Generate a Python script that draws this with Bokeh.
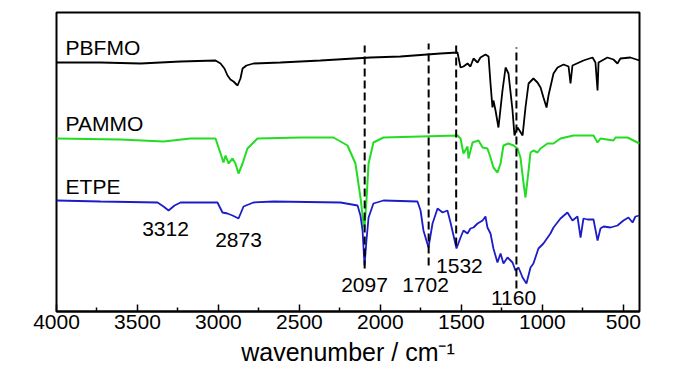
from bokeh.plotting import figure
from bokeh.models import Range1d, FixedTicker
from bokeh.core.properties import value
from bokeh.embed import file_html
from bokeh.resources import INLINE

# ---------------- data (wavenumber in cm^-1, transmittance in offset arbitrary units) -------------
pbfmo_wn = [4000, 3728, 3481, 3234, 3018, 2987, 2963, 2944, 2926, 2907, 2882, 2864, 2851, 2827, 2784,
            2617, 2370, 2061, 1876, 1629, 1524, 1505, 1487, 1462, 1444, 1425, 1400, 1382, 1351, 1332,
            1320, 1308, 1302, 1289, 1271, 1246, 1227, 1209, 1184, 1172, 1153, 1141, 1122, 1104, 1085,
            1055, 1030, 1011, 993, 974, 962, 931, 906, 869, 838, 826, 814, 746, 690, 672,
            659, 653, 598, 561, 536, 518, 456, 400]
pbfmo_t = [249, 249, 248, 250, 251, 248, 243, 236, 232, 230, 226, 233, 243, 246, 248,
           249, 251, 254, 255, 258, 259, 244, 245, 248, 245, 253, 249, 254, 257, 255,
           228, 204, 211, 201, 184, 221, 244, 238, 201, 176, 184, 181, 176, 204, 228,
           233, 229, 224, 214, 204, 216, 238, 244, 247, 245, 228, 246, 251, 254, 249,
           221, 249, 254, 252, 248, 253, 254, 251]

pammo_wn = [4000, 3605, 3339, 3173, 3018, 2987, 2969, 2956, 2938, 2913, 2895, 2876, 2851, 2821, 2802,
            2759, 2493, 2290, 2203, 2154, 2123, 2104, 2098, 2086, 2073, 2043, 1981, 1752, 1524, 1505,
            1487, 1462, 1456, 1431, 1413, 1394, 1369, 1339, 1320, 1302, 1277, 1258, 1240, 1209, 1178,
            1153, 1135, 1116, 1104, 1085, 1073, 1055, 1030, 1011, 968, 931, 888, 808, 684, 659,
            641, 561, 548, 474, 400]
pammo_t = [173, 172, 170, 173, 173, 158, 149, 156, 148, 153, 148, 138, 148, 163, 166,
           173, 174, 174, 166, 148, 114, 88, 84, 111, 148, 169, 174, 175, 176, 173,
           158, 165, 153, 169, 170, 171, 164, 163, 154, 144, 139, 148, 166, 168, 166,
           163, 154, 128, 114, 141, 159, 161, 159, 163, 168, 168, 173, 176, 176, 169,
           173, 171, 174, 174, 168]

etpe_wn = [4000, 3728, 3376, 3339, 3308, 3271, 3234, 3006, 2975, 2944, 2913, 2876, 2845, 2784, 2660,
           2246, 2141, 2123, 2110, 2098, 2086, 2073, 2043, 1981, 1771, 1752, 1734, 1703, 1678, 1647,
           1616, 1586, 1567, 1530, 1505, 1487, 1462, 1444, 1425, 1400, 1369, 1351, 1339, 1320, 1302,
           1277, 1258, 1240, 1215, 1184, 1166, 1147, 1122, 1098, 1073, 1055, 1024, 993, 950, 931,
           888, 845, 814, 783, 764, 746, 721, 684, 659, 641, 622, 579, 536, 499, 468,
           443, 425, 400]
etpe_t = [111, 110, 109, 105, 101, 106, 109, 109, 99, 98, 96, 93, 105, 109, 110,
          109, 106, 96, 81, 46, 71, 94, 108, 111, 110, 101, 81, 64, 88, 103,
          99, 101, 89, 63, 74, 81, 78, 83, 84, 88, 91, 95, 84, 78, 63,
          49, 58, 48, 54, 49, 41, 44, 34, 28, 44, 48, 63, 68, 78, 84,
          93, 99, 91, 95, 74, 93, 92, 92, 71, 83, 85, 84, 86, 91, 94,
          89, 95, 96]

series_names = ["PBFMO", "PAMMO", "ETPE"]

peak_wn = [2097, 1702, 1532, 1160]          # dashed marker lines
peak_top = [266, 268, 269, 264]
peak_bottom = [43, 46, 66, 23]

peak_labels = ["3312", "2873", "2097", "1702", "1532", "1160"]

x_ticks = [4000, 3500, 3000, 2500, 2000, 1500, 1000, 500]
x_minor = [3750, 3250, 2750, 2250, 1750, 1250, 750]

# ---------------- layout / style ----------------
FONT = "Liberation Sans"
name_x = [3944, 3944, 3944]
name_y = [264, 188, 125]
label_x = [3327, 2876, 2098, 1721, 1512, 1178]
label_y = [83, 72, 27, 27, 46, 14]

p = figure(width=700, height=375, output_backend="svg", toolbar_location=None,
           x_range=Range1d(4000, 400), y_range=Range1d(0, 299),
           min_border_left=56, min_border_right=61, min_border_top=12, min_border_bottom=64)
p.grid.visible = False
p.yaxis.visible = False
p.outline_line_color = "black"
p.outline_line_width = 2
p.background_fill_color = "white"
p.border_fill_color = "white"

ax = p.xaxis[0]
ax.ticker = FixedTicker(ticks=x_ticks, minor_ticks=x_minor)
ax.major_tick_in = 7
ax.major_tick_out = 0
ax.minor_tick_in = 4
ax.minor_tick_out = 0
ax.major_tick_line_width = 1.5
ax.minor_tick_line_width = 1.5
ax.axis_line_width = 2
ax.major_label_text_font = FONT
ax.major_label_text_font_size = "21px"
ax.major_label_text_color = "black"
ax.major_label_standoff = 3
ax.axis_label = "wavenumber / cm\u207b\u00b9"
ax.axis_label_text_font = FONT
ax.axis_label_text_font_size = "25px"
ax.axis_label_text_font_style = "normal"
ax.axis_label_text_color = "black"
ax.axis_label_standoff = 6

p.line(pbfmo_wn, pbfmo_t, line_color="black", line_width=1.8)
p.line(pammo_wn, pammo_t, line_color="#22dd22", line_width=2)
p.line(etpe_wn, etpe_t, line_color="#1c1cc8", line_width=1.8)

p.segment(x0=peak_wn, x1=peak_wn, y0=peak_bottom, y1=peak_top,
          line_color="black", line_width=2, line_dash="8 4")

p.text(x=name_x, y=name_y, text=series_names, text_font=value(FONT),
       text_font_size="21px", text_align="left", text_baseline="middle", text_color="black")
p.text(x=label_x, y=label_y, text=peak_labels, text_font=value(FONT),
       text_font_size="21px", text_align="center", text_baseline="middle", text_color="black")

open("out.html", "w").write(file_html(p, INLINE))
